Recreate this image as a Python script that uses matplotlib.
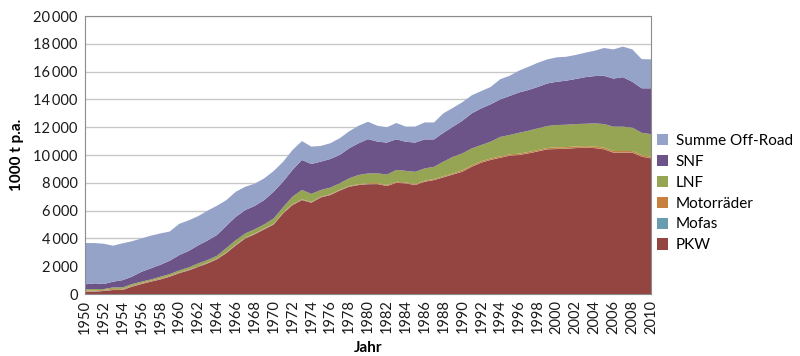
import matplotlib
matplotlib.use('Agg')
import matplotlib.pyplot as plt
from matplotlib.ticker import FuncFormatter, MultipleLocator
from matplotlib.patches import Patch

plt.rcParams['font.family'] = ['Lato', 'DejaVu Sans']

# Jahre und Werte (1000 t p.a.)
years = list(range(1950, 2011))

pkw = [170, 170, 220, 290, 290, 530, 720, 890, 1050, 1250,
       1500, 1700, 1950, 2200, 2500, 2950, 3500, 4000, 4300, 4650,
       5000, 5800, 6400, 6760, 6570, 6950, 7120, 7440, 7720, 7840,
       7900, 7910, 7770, 8000, 7960, 7840, 8080, 8200, 8400, 8600,
       8800, 9160, 9450, 9650, 9800, 9950, 10000, 10120, 10260, 10410,
       10430, 10450, 10500, 10520, 10500, 10410, 10170, 10170, 10170, 9880,
       9760]
mofas = [20] * 20 + [15] * 20 + [10] * 21
motorraeder = [60] * 10 + [40] * 20 + [60] * 10 + [90] * 10 + [110] * 11
lnf = [90, 110, 60, 110, 110, 110, 90, 80, 120, 110,
       140, 160, 190, 190, 190, 300, 320, 300, 300, 300,
       380, 390, 550, 670, 580, 480, 480, 470, 550, 670,
       700, 700, 750, 850, 830, 880, 880, 880, 1050, 1200,
       1220, 1220, 1170, 1210, 1400, 1390, 1500, 1530, 1560, 1580,
       1610, 1610, 1610, 1610, 1660, 1700, 1750, 1750, 1680, 1600,
       1620]
snf = [360, 410, 360, 410, 520, 530, 710, 800, 850, 960,
       1100, 1180, 1300, 1400, 1500, 1600, 1680, 1680, 1680, 1750,
       1920, 1840, 1920, 2160, 2150, 2040, 2060, 2040, 2160, 2280,
       2470, 2280, 2300, 2210, 2090, 2100, 2090, 1970, 2080, 2160,
       2350, 2520, 2640, 2690, 2700, 2810, 2900, 2930, 2980, 3060,
       3110, 3170, 3240, 3350, 3400, 3470, 3460, 3560, 3300, 3200,
       3300]
offroad = [2970, 2900, 2900, 2590, 2650, 2550, 2400, 2350, 2260, 2100,
           2250, 2200, 2100, 2150, 2100, 1850, 1800, 1680, 1600, 1560,
           1490, 1420, 1430, 1360, 1250, 1130, 1130, 1200, 1220, 1260,
           1250, 1140, 1100, 1170, 1090, 1150, 1220, 1220, 1400, 1360,
           1330, 1300, 1240, 1250, 1450, 1450, 1570, 1670, 1740, 1730,
           1760, 1720, 1730, 1760, 1820, 2000, 2100, 2200, 2330, 2100,
           2080]

labels = ['PKW', 'Mofas', 'Motorräder', 'LNF', 'SNF', 'Summe Off-Road']
colors = ['#954541', '#6a9cb0', '#c8803e', '#95a553', '#6c5489', '#95a3c8']

fig = plt.figure(figsize=(8, 3.56), dpi=100)
ax = fig.add_axes([0.106, 0.174, 0.708, 0.781])

ax.stackplot(years, pkw, mofas, motorraeder, lnf, snf, offroad,
             colors=colors, linewidth=0)

ax.set_xlim(1950, 2010)
ax.set_ylim(0, 20000)
ax.xaxis.set_major_locator(MultipleLocator(2))
ax.yaxis.set_major_locator(MultipleLocator(2000))
ax.yaxis.set_major_formatter(FuncFormatter(
    lambda v, p: '{:,.0f}'.format(v).replace(',', '\u2009')))

ax.grid(axis='y', color='#c8c8c8', linewidth=1)
ax.set_axisbelow(True)
for s in ax.spines.values():
    s.set_color('#8c8c8c')

ax.tick_params(axis='x', length=0, pad=4, labelsize=10.5, labelrotation=90,
               labelcolor='#1a1a1a')
ax.tick_params(axis='y', length=0, pad=5, labelsize=10.5, labelcolor='#1a1a1a')

ax.set_xlabel('Jahr', fontsize=11, fontweight='bold', labelpad=5)
ax.set_ylabel('1000 t p.a.', fontsize=11, fontweight='bold', labelpad=7)

# Legende: oben Off-Road, unten PKW
handles = [Patch(facecolor=c, edgecolor='none') for c in colors][::-1]
ax.legend(handles, labels[::-1], loc='center left', bbox_to_anchor=(1.01, 0.363),
          frameon=False, fontsize=11, handlelength=0.75, handleheight=0.75,
          handletextpad=0.5, labelspacing=0.45, borderpad=0, borderaxespad=0)

fig.savefig('out.png', dpi=100)
